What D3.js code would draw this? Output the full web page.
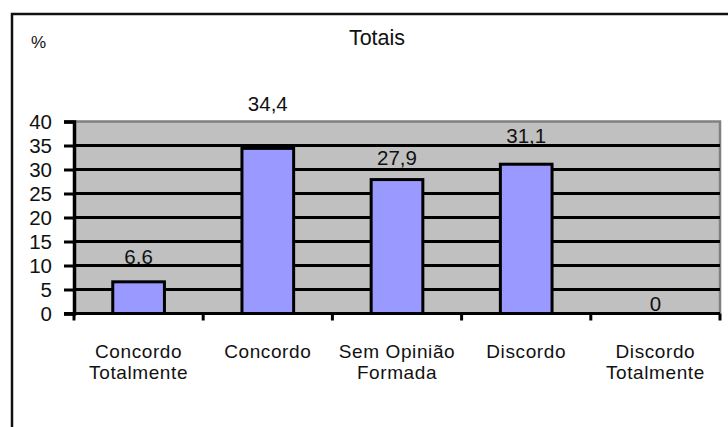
<!DOCTYPE html>
<html>
<head>
    <meta charset="utf-8">
    <style>
        body { margin: 0; background: #fff; }
        svg { display: block; font-family: 'Liberation Sans', Arial, sans-serif; }
    </style>
</head>
<body>
    <svg width="728" height="427"></svg>

<script src="https://d3js.org/d3.v7.min.js"></script>
<script>
    // data
    let categories = [["Concordo", "Totalmente"], ["Concordo"], ["Sem Opinião", "Formada"], ["Discordo"], ["Discordo", "Totalmente"]];
    let values = [6.6, 34.4, 27.9, 31.1, 0];
    let valueLabels = ["6.6", "34,4", "27,9", "31,1", "0"];
    let yTicks = [0, 5, 10, 15, 20, 25, 30, 35, 40];

    // label lift above each bar (px) - the original places them unevenly
    let labelLift = [18, 37, 15, 21, 3];

    let plot = { left: 74, right: 720, top: 121.5, bottom: 313.5 };

    let svg = d3.select("svg");

    // outer frame, runs off the right and bottom of the picture
    svg.append("rect")
        .attr("x", 12).attr("y", 14)
        .attr("width", 760).attr("height", 460)
        .style("fill", "none")
        .style("stroke", "#111")
        .style("stroke-width", 2.5);

    let x = d3.scaleBand()
        .domain(d3.range(categories.length))
        .range([plot.left, plot.right])
        .paddingInner(0.6)
        .paddingOuter(0.3);

    let xOuter = d3.scaleBand()
        .domain(d3.range(categories.length))
        .range([plot.left, plot.right]);

    let y = d3.scaleLinear()
        .domain([0, 40])
        .range([plot.bottom, plot.top]);

    // plot background
    svg.append("rect")
        .attr("x", plot.left).attr("y", plot.top)
        .attr("width", plot.right - plot.left).attr("height", plot.bottom - plot.top)
        .style("fill", "#c0c0c0");

    // gray frame at top and right
    svg.append("path")
        .attr("d", `M${plot.left},${plot.top}H${plot.right}V${plot.bottom}`)
        .style("fill", "none")
        .style("stroke", "#808080")
        .style("stroke-width", 2.5);

    // gridlines
    svg.append("g")
        .selectAll("line")
        .data(yTicks.filter(d => d > 0 && d < 40))
        .join("line")
        .attr("x1", plot.left).attr("x2", plot.right)
        .attr("y1", d => y(d)).attr("y2", d => y(d))
        .style("stroke", "#000")
        .style("stroke-width", 3);

    // bars
    svg.append("g")
        .selectAll("rect")
        .data(values)
        .join("rect")
        .attr("x", (d, i) => x(i))
        .attr("width", x.bandwidth())
        .attr("y", d => y(d))
        .attr("height", d => y(0) - y(d))
        .style("fill", d => d > 0 ? "#9999ff" : "none")
        .style("stroke", d => d > 0 ? "#000" : "none")
        .style("stroke-width", 3);

    // y axis
    let yAxis = svg.append("g")
        .attr("transform", `translate(${plot.left},0)`)
        .call(d3.axisLeft(y).tickValues(yTicks).tickSize(10).tickPadding(12));
    yAxis.select(".domain").style("stroke", "#000").style("stroke-width", 3.5);
    yAxis.selectAll(".tick line").style("stroke", "#000").style("stroke-width", 3);
    yAxis.selectAll(".tick text")
        .style("font-size", "20.5px")
        .style("fill", "#111")
        .attr("dy", "0.36em");

    // x axis line with boundary ticks
    svg.append("line")
        .attr("x1", plot.left - 10).attr("x2", plot.right)
        .attr("y1", plot.bottom).attr("y2", plot.bottom)
        .style("stroke", "#000")
        .style("stroke-width", 3);

    let bounds = d3.range(categories.length + 1).map(i => i < categories.length ? xOuter(i) : plot.right);
    svg.append("g")
        .selectAll("line")
        .data(bounds)
        .join("line")
        .attr("x1", d => d).attr("x2", d => d)
        .attr("y1", plot.bottom).attr("y2", plot.bottom + 7)
        .style("stroke", "#000")
        .style("stroke-width", 3);

    // category labels, one text per line
    let catLines = categories.flatMap((lines, i) => lines.map((t, k) => ({ i, k, t })));
    svg.append("g")
        .selectAll("text")
        .data(catLines)
        .join("text")
        .attr("x", d => xOuter(d.i) + xOuter.bandwidth() / 2)
        .attr("y", d => 358 + d.k * 21)
        .attr("text-anchor", "middle")
        .style("font-size", "19px")
        .style("letter-spacing", "0.6px")
        .style("fill", "#111")
        .text(d => d.t);

    // value labels
    svg.append("g")
        .selectAll("text")
        .data(values)
        .join("text")
        .attr("x", (d, i) => xOuter(i) + xOuter.bandwidth() / 2)
        .attr("y", (d, i) => y(d) - labelLift[i])
        .attr("text-anchor", "middle")
        .style("font-size", "20.5px")
        .style("fill", "#111")
        .text((d, i) => valueLabels[i]);

    // title and unit
    svg.append("text")
        .attr("x", 377).attr("y", 45)
        .attr("text-anchor", "middle")
        .style("font-size", "21.5px")
        .style("fill", "#111")
        .text("Totais");

    svg.append("text")
        .attr("x", 31).attr("y", 48)
        .style("font-size", "17px")
        .style("fill", "#111")
        .text("%");
</script>
</body>
</html>
